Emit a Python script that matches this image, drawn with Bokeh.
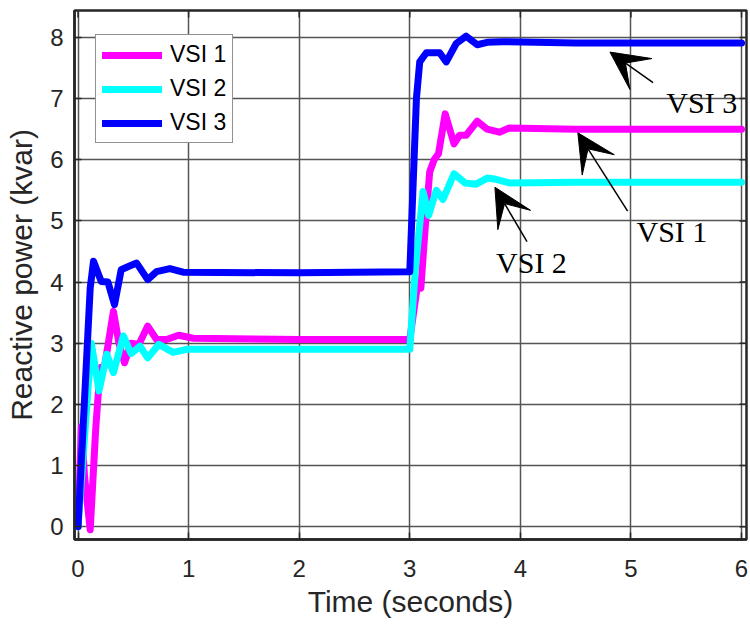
from bokeh.plotting import figure
from bokeh.models import (ColumnDataSource, Range1d, FixedTicker, Legend,
                          LegendItem, Arrow, VeeHead, Label)
from bokeh.embed import file_html
from bokeh.resources import INLINE

# ---- data ----
t_vsi1 = [0, 0.03, 0.06, 0.11, 0.16, 0.2, 0.24, 0.32, 0.37, 0.42, 0.48, 0.55, 0.63, 0.71,
          0.8, 0.91, 1.04, 2.0, 3.0, 3.07, 3.1, 3.14, 3.18, 3.22, 3.26, 3.32, 3.4, 3.45,
          3.51, 3.61, 3.7, 3.81, 3.9, 4.5, 6.0]
q_vsi1 = [0, 1.63, 0.8, -0.05, 1.6, 2.6, 2.62, 3.52, 3.0, 2.68, 3.0, 2.98, 3.28, 3.06,
          3.06, 3.13, 3.08, 3.06, 3.06, 3.95, 3.9, 4.9, 5.8, 6.0, 6.1, 6.75, 6.26, 6.4,
          6.4, 6.63, 6.5, 6.45, 6.52, 6.5, 6.5]

t_vsi2 = [0, 0.06, 0.12, 0.19, 0.26, 0.32, 0.41, 0.48, 0.56, 0.63, 0.73, 0.86, 0.98, 2.0,
          3.0, 3.05, 3.12, 3.17, 3.24, 3.3, 3.4, 3.5, 3.6, 3.7, 3.78, 3.9, 4.5, 6.0]
q_vsi2 = [0, 1.5, 3.0, 2.22, 2.82, 2.52, 3.12, 2.83, 2.95, 2.76, 2.98, 2.85, 2.9, 2.9,
          2.9, 4.2, 5.48, 5.09, 5.5, 5.35, 5.77, 5.62, 5.6, 5.7, 5.68, 5.62, 5.63, 5.63]

t_vsi3 = [0, 0.11, 0.14, 0.21, 0.27, 0.33, 0.39, 0.45, 0.53, 0.63, 0.71, 0.83, 0.95, 2.0,
          3.0, 3.06, 3.09, 3.15, 3.27, 3.33, 3.42, 3.51, 3.61, 3.7, 3.84, 4.5, 6.0]
q_vsi3 = [0, 3.9, 4.34, 4.01, 4.0, 3.63, 4.2, 4.25, 4.31, 4.04, 4.17, 4.22, 4.16, 4.15,
          4.17, 7.0, 7.6, 7.75, 7.75, 7.6, 7.9, 8.02, 7.88, 7.92, 7.93, 7.91, 7.91]

series_names = ["VSI 1", "VSI 2", "VSI 3"]
series_colors = ["#FF00FF", "#00FFFF", "#0000FF"]

x_ticks = [0, 1, 2, 3, 4, 5, 6]
y_ticks = [0, 1, 2, 3, 4, 5, 6, 7, 8]

# annotation arrows (tail -> head) and their labels
arrow_tails_t = [5.20, 4.97, 4.06]
arrow_tails_q = [7.26, 5.16, 4.66]
arrow_heads_t = [4.81, 4.52, 3.77]
arrow_heads_q = [7.76, 6.44, 5.55]
ann_text = ["VSI 3", "VSI 1", "VSI 2"]
ann_t = [5.32, 5.05, 3.78]
ann_q = [6.94, 4.83, 4.32]

DARK = "#262626"
SANS = "Liberation Sans"
X0, X1 = -0.032, 6.045
Y0, Y1 = -0.21, 8.44

p = figure(width=748, height=620, output_backend="svg", toolbar_location=None,
           x_range=Range1d(X0, X1), y_range=Range1d(Y0, Y1))
p.min_border_left = 74
p.min_border_right = 2
p.min_border_top = 10
p.min_border_bottom = 77
p.background_fill_color = "white"
p.outline_line_color = DARK
p.outline_line_width = 2.5

p.xaxis.ticker = FixedTicker(ticks=x_ticks)
p.yaxis.ticker = FixedTicker(ticks=y_ticks)
for ax in (p.xaxis, p.yaxis):
    ax.axis_line_color = DARK
    ax.axis_line_width = 2.5
    ax.major_tick_in = 7
    ax.major_tick_out = 0
    ax.major_tick_line_color = DARK
    ax.major_tick_line_width = 1.5
    ax.minor_tick_line_color = None
    ax.major_label_text_font = SANS
    ax.major_label_text_font_size = "24px"
    ax.major_label_text_color = DARK
    ax.axis_label_text_font = SANS
    ax.axis_label_text_font_size = "30px"
    ax.axis_label_text_font_style = "normal"
    ax.axis_label_text_color = DARK
p.xaxis.axis_label = "Time (seconds)"
p.yaxis.axis_label = "Reactive power (kvar)"
p.xaxis.major_label_standoff = 20
p.xaxis.axis_label_standoff = 5
p.yaxis.major_label_standoff = 11
p.yaxis.axis_label_standoff = 9

p.xgrid.ticker = FixedTicker(ticks=x_ticks)
p.ygrid.ticker = FixedTicker(ticks=y_ticks)
p.grid.grid_line_color = "#555555"
p.grid.grid_line_width = 1.5
p.grid.grid_line_alpha = 1.0

# box-style inward ticks on the top and right edges (from the tick lists)
tick_dy = 7 / 61.6
tick_dx = 7 / 110.0
p.segment(x0=x_ticks, y0=[Y1] * len(x_ticks), x1=x_ticks, y1=[Y1 - tick_dy] * len(x_ticks),
          line_color=DARK, line_width=1.5)
p.segment(x0=[X1] * len(y_ticks), y0=y_ticks, x1=[X1 - tick_dx] * len(y_ticks), y1=y_ticks,
          line_color=DARK, line_width=1.5)

renderers = []
for tt, qq, c in zip((t_vsi1, t_vsi2, t_vsi3), (q_vsi1, q_vsi2, q_vsi3), series_colors):
    src = ColumnDataSource(dict(t=tt, q=qq))
    r = p.line("t", "q", source=src, line_color=c, line_width=7, line_join="round",
               line_cap="round")
    renderers.append(r)

legend = Legend(items=[LegendItem(label=n, renderers=[r]) for n, r in zip(series_names, renderers)],
                location=(21, 396))
legend.label_text_font = SANS
legend.label_text_font_size = "23px"
legend.label_text_color = "black"
legend.glyph_width = 60
legend.glyph_height = 26
legend.spacing = 7
legend.padding = 6
legend.margin = 0
legend.label_standoff = 8
legend.border_line_color = DARK
legend.border_line_width = 1
legend.background_fill_alpha = 1
p.add_layout(legend, "center")

for x0, y0, x1, y1 in zip(arrow_tails_t, arrow_tails_q, arrow_heads_t, arrow_heads_q):
    p.add_layout(Arrow(x_start=x0, y_start=y0, x_end=x1, y_end=y1, line_color="black",
                       line_width=1.5,
                       end=VeeHead(size=38, fill_color="black", line_color="black",
                                   line_width=1)))

for s, x, y in zip(ann_text, ann_t, ann_q):
    p.add_layout(Label(x=x, y=y, text=s, text_font="Liberation Serif",
                       text_font_size="30px", text_color="black",
                       text_baseline="alphabetic", text_align="left"))

open("out.html", "w").write(file_html(p, INLINE))
